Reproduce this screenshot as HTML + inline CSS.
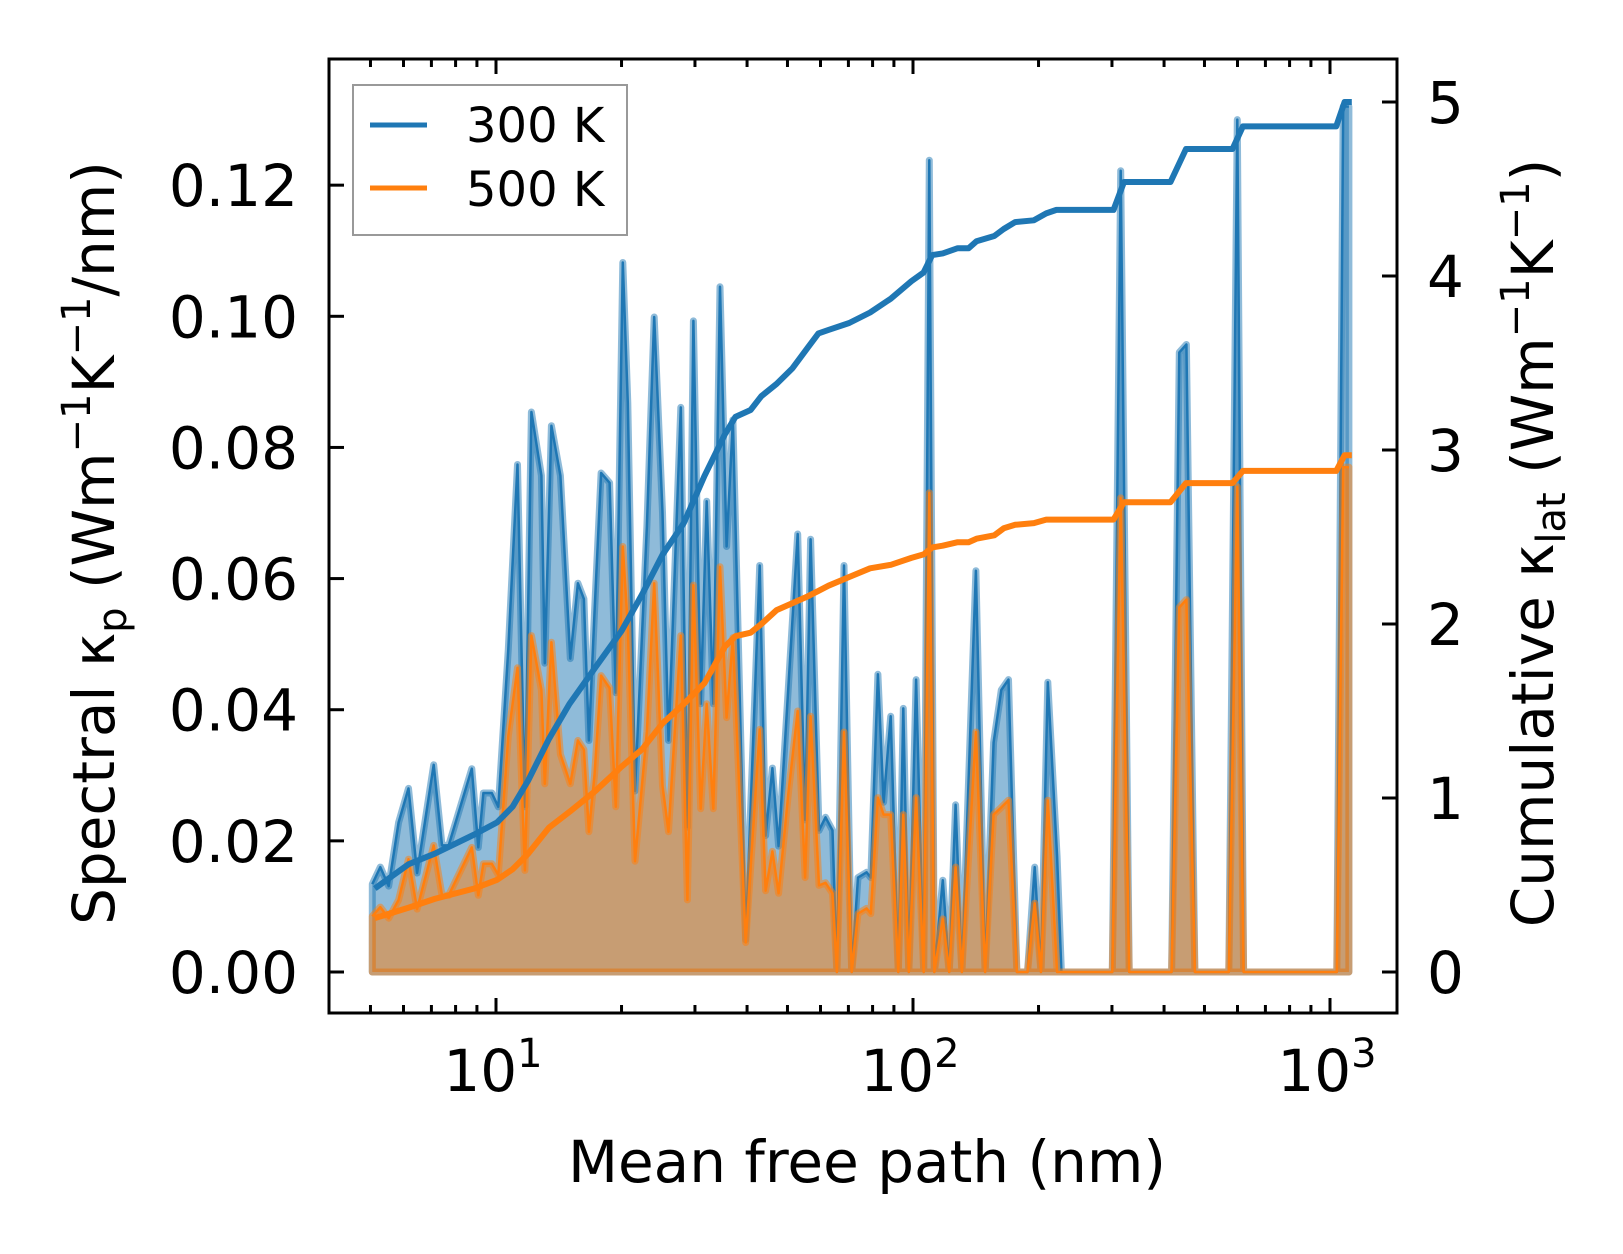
<!DOCTYPE html>
<html><head><meta charset="utf-8"><style>
html,body{margin:0;padding:0;background:#fff}
svg{display:block}
text{font-family:"DejaVu Sans","Liberation Sans",sans-serif;fill:#000}
</style></head><body>
<svg id="chart" width="1623" height="1254" viewBox="0 0 1623 1254">
<rect x="0" y="0" width="1623" height="1254" fill="#fff"/>
<g id="plot"></g>
<g id="axes"></g>
</svg>
<script>
// spectral data
const mfp = [5.05,5.28,5.53,5.84,6.17,6.47,7.09,7.42,7.70,8.75,9.07,9.33,9.77,10.13,10.70,11.26,11.73,12.16,12.85,13.09,13.58,14.27,15.07,15.72,16.25,16.70,17.23,17.87,18.72,19.38,20.14,20.70,21.55,23.01,23.96,25.08,25.92,27.75,28.77,29.74,30.97,32.01,33.20,34.44,35.73,37.0,39.7,42.9,44.3,46.0,47.6,50.2,52.9,55.1,56.8,59.5,61.7,64.1,65.7,68.3,71.3,73.8,77.4,79.2,82.4,85.0,88.4,92.2,94.8,97.7,101.7,106.1,109.4,112.5,117.9,122.1,126.5,131.0,141.5,148.9,156.1,162.8,169.4,177.5,188.2,195.8,202.8,210.5,221.6,226.9,300.5,314.9,330.0,417.0,435,452.6,474.2,571.8,599.4,620.7,1038.5,1075.5,1110];
const spec300 = [.0134,.0160,.0131,.0228,.0280,.0151,.0316,.0193,.0193,.0310,.0190,.0273,.0273,.0252,.0492,.0774,.0252,.0854,.0757,.0471,.0833,.0757,.0478,.0593,.0569,.0353,.0548,.0761,.0746,.0426,.1082,.0868,.0276,.0680,.0999,.0701,.0353,.0861,.0221,.0993,.0409,.0718,.0409,.1045,.0649,.0842,.0049,.0620,.0208,.0311,.0192,.0430,.0668,.0232,.0660,.0216,.0236,.0216,0,.0620,0,.0144,.0152,.0144,.0454,.0259,.0390,0,.0402,0,.0446,0,.1238,0,.0140,0,.0255,0,.0612,0,.0350,.0430,.0446,0,0,.0160,0,.0442,.0176,0,0,.1222,0,0,.0945,.0957,0,0,.1300,0,0,.1320,.1320];
const spec500 = [.0085,.0099,.0082,.0110,.0172,.0096,.0193,.0117,.0117,.0190,.0117,.0165,.0165,.0148,.0360,.0464,.0155,.0513,.0430,.0287,.0503,.0332,.0287,.0353,.0339,.0214,.0300,.0452,.0433,.0252,.0649,.0527,.0169,.0367,.0593,.0284,.0214,.0513,.0110,.0590,.0249,.0409,.0249,.0618,.0388,.0510,.0045,.0370,.0124,.0184,.0120,.0270,.0398,.0144,.0390,.0132,.0136,.0120,0,.0366,0,.0089,.0097,.0089,.0266,.0240,.0240,0,.0240,0,.0266,0,.0731,0,.0081,0,.0160,0,.0366,0,.0240,.0251,.0262,0,0,.0105,0,.0262,0,0,0,.0723,0,0,.0556,.0568,0,0,.0740,0,0,.0770,.0770];
// cumulative data
const cumMfp = [5.12,6.18,7.13,8.87,10.06,10.96,11.94,13.4,15.0,17.3,20.0,22.4,25.1,28.2,31.6,35.4,37.5,40.8,43.3,47.1,51.4,56.0,59.3,62.7,70.3,78.9,88.5,99.1,106,111.2,117.8,128,135.9,142,156.7,165,175.8,195,208.6,220.8,302.6,320.6,414.4,451.5,583.8,618.3,1035,1084,1128];
const cum300 = [0.48,0.62,0.68,0.79,0.86,0.95,1.10,1.34,1.54,1.75,1.96,2.17,2.40,2.58,2.85,3.09,3.19,3.23,3.31,3.38,3.47,3.59,3.67,3.69,3.73,3.79,3.87,3.97,4.02,4.12,4.13,4.16,4.16,4.20,4.23,4.27,4.31,4.32,4.36,4.38,4.38,4.54,4.54,4.73,4.73,4.86,4.86,5.0,5.0];
const cum500 = [0.31,0.37,0.42,0.48,0.53,0.59,0.68,0.83,0.92,1.04,1.18,1.28,1.43,1.54,1.66,1.87,1.93,1.95,2.00,2.08,2.12,2.16,2.19,2.22,2.27,2.32,2.34,2.38,2.40,2.44,2.45,2.47,2.47,2.49,2.51,2.55,2.57,2.58,2.60,2.60,2.60,2.70,2.70,2.81,2.81,2.88,2.88,2.97,2.97];
const yTicksL = [0,0.02,0.04,0.06,0.08,0.10,0.12];
const yTickLabelsL = ["0.00","0.02","0.04","0.06","0.08","0.10","0.12"];
const yTicksR = [0,1,2,3,4,5];
const xMajor = [1,2,3];

const L=329,R=1397,T=59,B=1013;
const xs = m => 496 + 417*(Math.log10(m)-1);
const ys = v => 972 - 6557*v;
const yr = c => 972 - 174*c;
const NS="http://www.w3.org/2000/svg";
function mk(tag, attrs, parent){const e=document.createElementNS(NS,tag);for(const k in attrs)e.setAttribute(k,attrs[k]);parent.appendChild(e);return e;}
const plot=document.getElementById('plot'), axes=document.getElementById('axes');

function areaPath(vals){
  let d='M'+xs(mfp[0])+','+ys(0);
  mfp.forEach((m,i)=>{d+=' L'+xs(m).toFixed(1)+','+ys(vals[i]).toFixed(1);});
  d+=' L'+xs(mfp[mfp.length-1])+','+ys(0)+' Z';return d;
}
function linePath(xv,vals,fy){return xv.map((m,i)=>(i?'L':'M')+xs(m).toFixed(1)+','+fy(vals[i]).toFixed(1)).join(' ');}

const a300=mk('path',{d:areaPath(spec300),fill:'rgba(31,119,180,0.5)',stroke:'rgba(31,119,180,0.5)','stroke-width':7,'stroke-linejoin':'round'},plot);


const l300=mk('path',{d:linePath(mfp,spec300,ys),fill:'none',stroke:'#1f77b4','stroke-width':2.5,'stroke-linejoin':'round'},plot);


const a500=mk('path',{d:areaPath(spec500),fill:'rgba(255,127,14,0.5)',stroke:'rgba(255,127,14,0.5)','stroke-width':7,'stroke-linejoin':'round'},plot);


const l500=mk('path',{d:linePath(mfp,spec500,ys),fill:'none',stroke:'#ff7f0e','stroke-width':2.5,'stroke-linejoin':'round'},plot);


const c300=mk('path',{d:linePath(cumMfp,cum300,yr),fill:'none',stroke:'#1f77b4','stroke-width':6,'stroke-linejoin':'round'},plot);


const c500=mk('path',{d:linePath(cumMfp,cum500,yr),fill:'none',stroke:'#ff7f0e','stroke-width':6,'stroke-linejoin':'round'},plot);



// frame
const fr=mk('rect',{x:L,y:T,width:R-L,height:B-T,fill:'none',stroke:'#000','stroke-width':3},axes);


// x ticks
for(let dec=0;dec<=3;dec++){
  for(let k=1;k<10;k++){
    const m=k*Math.pow(10,dec), x=xs(m);
    if(x<L+2||x>R-2) continue;
    const len=(k===1)?15:8;
    mk('line',{x1:x,y1:B,x2:x,y2:B-len,stroke:'#000','stroke-width':3},axes);
    mk('line',{x1:x,y1:T,x2:x,y2:T+len,stroke:'#000','stroke-width':3},axes);
  }
}
xMajor.forEach(p=>{
  const t=mk('text',{x:xs(Math.pow(10,p))-3,y:1091,'font-size':58,'text-anchor':'middle'},axes);
  
  
  t.textContent='10';
  const s=mk('tspan',{dy:-24,'font-size':40},t);s.textContent=String(p);
});
// left y ticks
yTicksL.forEach((v,i)=>{
  const y=ys(v);
  mk('line',{x1:L,y1:y,x2:L+15,y2:y,stroke:'#000','stroke-width':3},axes);
  const t=mk('text',{x:298,y:y+21,'font-size':58,'text-anchor':'end'},axes);
  
  
  t.textContent=yTickLabelsL[i];
});
// right y ticks
yTicksR.forEach(v=>{
  const y=yr(v);
  mk('line',{x1:R,y1:y,x2:R-15,y2:y,stroke:'#000','stroke-width':3},axes);
  const t=mk('text',{x:1427,y:y+21,'font-size':58,'text-anchor':'start'},axes);
  
  
  t.textContent=String(v);
});
</script>
<svg style="position:absolute;left:0;top:0" width="1623" height="1254">
<text x="867" y="1182" font-size="58" text-anchor="middle" style="font-family:'DejaVu Sans',sans-serif">Mean free path (nm)</text>
<text transform="translate(114,543) rotate(-90)" font-size="58" text-anchor="middle" style="font-family:'DejaVu Sans',sans-serif">Spectral κ<tspan font-size="40" dy="12">p</tspan><tspan dy="-12"> (Wm</tspan><tspan font-size="40" dy="-24">−1</tspan><tspan dy="24">K</tspan><tspan font-size="40" dy="-24">−1</tspan><tspan dy="24">/nm)</tspan></text>
<text transform="translate(1553,543) rotate(-90)" font-size="58" text-anchor="middle" style="font-family:'DejaVu Sans',sans-serif">Cumulative κ<tspan font-size="40" dy="12">lat</tspan><tspan dy="-12"> (Wm</tspan><tspan font-size="40" dy="-24">−1</tspan><tspan dy="24">K</tspan><tspan font-size="40" dy="-24">−1</tspan><tspan dy="24">)</tspan></text>
<g>
<rect x="353" y="85" width="274" height="150" fill="#fff" fill-opacity="0.8" stroke="#999" stroke-width="2"/>
<line x1="370" y1="125" x2="427" y2="125" stroke="#1f77b4" stroke-width="5"/>
<text x="466" y="142" font-size="48" style="font-family:'DejaVu Sans',sans-serif">300 K</text>
<line x1="370" y1="188" x2="427" y2="188" stroke="#ff7f0e" stroke-width="5"/>
<text x="466" y="206" font-size="48" style="font-family:'DejaVu Sans',sans-serif">500 K</text>
</g>
</svg>
</body></html>
